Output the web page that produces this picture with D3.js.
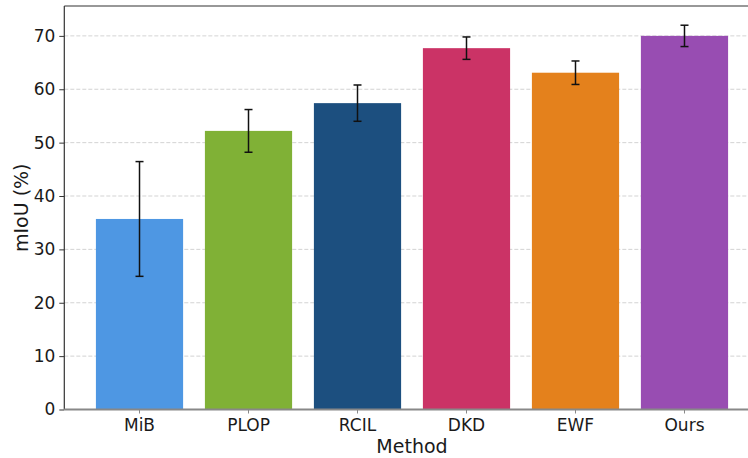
<!DOCTYPE html>
<html>
<head>
<meta charset="utf-8">
<script src="https://cdn.jsdelivr.net/npm/d3@7"></script>
<style>
  body { margin: 0; background: #fff; }
  svg { display: block; font-family: "DejaVu Sans", sans-serif; }
</style>
</head>
<body>
<div id="chart"></div>
<script>
// data
const methods = ['MiB', 'PLOP', 'RCIL', 'DKD', 'EWF', 'Ours']
const miou = [35.7, 52.2, 57.4, 67.7, 63.1, 70.0]
const err = [10.75, 4.0, 3.4, 2.1, 2.2, 2.0]
const colors = ['#4e97e3', '#80b136', '#1c4f7f', '#cb3366', '#e4811c', '#984db2']
const yTicks = [0, 10, 20, 30, 40, 50, 60, 70]

const W = 748, H = 458
const mLeft = 64.3, mRight = 759.7, mTop = 6, mBottom = 409.5

const svg = d3.select('#chart').append('svg').attr('width', W).attr('height', H)

const x = d3.scaleBand()
    .domain(methods)
    .range([mLeft, mRight])
    .paddingInner(0.2)
    .paddingOuter(0.29)

const y = d3.scaleLinear().domain([0, 75.6]).range([mBottom, mTop])

// grid
svg.append('g').selectAll('line')
    .data(yTicks.filter(d => d > 0))
    .enter()
    .append('line')
    .attr('x1', mLeft).attr('x2', mRight)
    .attr('y1', d => y(d)).attr('y2', d => y(d))
    .style('stroke', '#c8c8c8')
    .style('stroke-width', 0.8)
    .style('stroke-dasharray', '4,2')

// bars
svg.append('g').selectAll('rect')
    .data(methods)
    .enter()
    .append('rect')
    .attr('x', d => x(d))
    .attr('width', x.bandwidth())
    .attr('y', (d, i) => y(miou[i]))
    .attr('height', (d, i) => y(0) - y(miou[i]))
    .attr('fill', (d, i) => colors[i])

// error bars
let eb = svg.append('g').selectAll('g')
    .data(methods)
    .enter()
    .append('g')
    .attr('transform', d => 'translate(' + (x(d) + x.bandwidth() / 2) + ',0)')
    .style('stroke', '#111')
    .style('stroke-width', 1.5)

eb.append('line')
    .attr('y1', (d, i) => y(miou[i] - err[i]))
    .attr('y2', (d, i) => y(miou[i] + err[i]))
eb.append('line')
    .attr('x1', -4).attr('x2', 4)
    .attr('y1', (d, i) => y(miou[i] + err[i]))
    .attr('y2', (d, i) => y(miou[i] + err[i]))
eb.append('line')
    .attr('x1', -4).attr('x2', 4)
    .attr('y1', (d, i) => y(miou[i] - err[i]))
    .attr('y2', (d, i) => y(miou[i] - err[i]))

// y axis
let yAxis = svg.append('g')
    .attr('transform', 'translate(' + mLeft + ',0)')
    .call(d3.axisLeft(y).tickValues(yTicks).tickSize(5).tickPadding(4).tickFormat(d3.format('d')))
yAxis.select('.domain').remove()
yAxis.selectAll('.tick line').style('stroke', '#333')
yAxis.selectAll('.tick text').style('font-size', '17px').style('fill', '#1a1a1a')
    .attr('font-family', '"DejaVu Sans", sans-serif')

// x axis
let xAxis = svg.append('g')
    .attr('transform', 'translate(0,' + mBottom + ')')
    .call(d3.axisBottom(x).tickSize(4).tickPadding(5))
xAxis.select('.domain').remove()
xAxis.selectAll('.tick line').style('stroke', '#888')
xAxis.selectAll('.tick text').style('font-size', '17px').style('fill', '#1a1a1a')
    .attr('font-family', '"DejaVu Sans", sans-serif')

// spines
svg.append('line')
    .attr('x1', mLeft).attr('x2', mLeft).attr('y1', mTop).attr('y2', mBottom)
    .style('stroke', '#333').style('stroke-width', 1.2)
svg.append('line')
    .attr('x1', mLeft).attr('x2', mRight).attr('y1', mTop).attr('y2', mTop)
    .style('stroke', '#333').style('stroke-width', 1.2)
svg.append('line')
    .attr('x1', mLeft).attr('x2', mRight).attr('y1', mBottom).attr('y2', mBottom)
    .style('stroke', '#888').style('stroke-width', 1.8)

// axis labels
svg.append('text')
    .attr('x', (mLeft + mRight) / 2)
    .attr('y', 453)
    .attr('text-anchor', 'middle')
    .style('font-size', '19px')
    .style('fill', '#1a1a1a')
    .text('Method')

svg.append('text')
    .attr('transform', 'translate(28,' + ((mTop + mBottom) / 2) + ') rotate(-90)')
    .attr('text-anchor', 'middle')
    .style('font-size', '19px')
    .style('fill', '#1a1a1a')
    .text('mIoU (%)')
</script>
</body>
</html>
